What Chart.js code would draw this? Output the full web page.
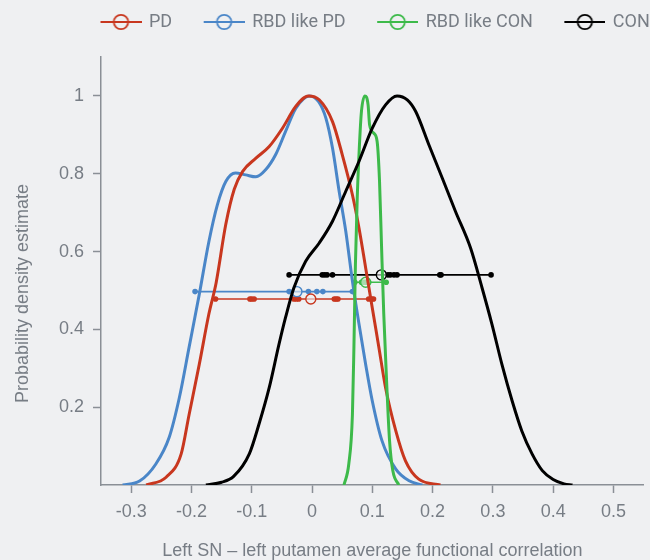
<!DOCTYPE html>
<html>
<head>
<meta charset="utf-8">
<script src="https://cdn.jsdelivr.net/npm/chart.js@4.4.1/dist/chart.umd.min.js"></script>
<style>
  html, body { margin: 0; padding: 0; background: #eff0f2; }
  #wrap { width: 650px; height: 560px; }
</style>
</head>
<body>
<div id="wrap"><canvas id="c" width="650" height="560" style="width:650px;height:560px"></canvas></div>
<script>
// ---------- data ----------
const seriesNames = ['PD', 'RBD like PD', 'RBD like CON', 'CON'];
const xTicks = [-0.3, -0.2, -0.1, 0, 0.1, 0.2, 0.3, 0.4, 0.5];
const yTicks = [0.2, 0.4, 0.6, 0.8, 1];

// kernel density curves (x = correlation, y = normalised density)
const pdX = [-0.275,-0.242,-0.217,-0.204,-0.187,-0.171,-0.159,-0.143,-0.129,-0.115,-0.093,-0.071,-0.049,-0.027,-0.006,0.012,0.034,0.050,0.067,0.078,0.089,0.100,0.111,0.122,0.139,0.155,0.177,0.213];
const pdY = [0,0.02,0.08,0.18,0.31,0.44,0.52,0.67,0.76,0.806,0.84,0.87,0.917,0.973,1.0,0.99,0.934,0.85,0.746,0.66,0.558,0.455,0.353,0.25,0.139,0.062,0.015,0];

const rbdPdX = [-0.314,-0.286,-0.259,-0.237,-0.220,-0.204,-0.187,-0.171,-0.157,-0.143,-0.127,-0.110,-0.093,-0.077,-0.060,-0.044,-0.027,-0.004,0.011,0.023,0.034,0.045,0.056,0.067,0.078,0.089,0.100,0.116,0.139,0.161,0.183];
const rbdPdY = [0,0.01,0.054,0.122,0.225,0.353,0.49,0.626,0.72,0.78,0.802,0.797,0.792,0.81,0.85,0.908,0.968,1.0,0.985,0.943,0.866,0.755,0.652,0.524,0.413,0.31,0.216,0.114,0.041,0.011,0];

const rbdConX = [0.053,0.061,0.067,0.0695,0.072,0.075,0.0785,0.082,0.0877,0.093,0.0955,0.1026,0.108,0.112,0.1154,0.119,0.1237,0.1286,0.134,0.144];
const rbdConY = [0,0.054,0.18,0.353,0.567,0.737,0.868,0.96,1.0,0.977,0.926,0.904,0.883,0.78,0.61,0.44,0.267,0.114,0.037,0];

const conX = [-0.176,-0.150,-0.130,-0.104,-0.088,-0.071,-0.055,-0.044,-0.030,-0.0105,0.012,0.034,0.056,0.078,0.100,0.122,0.141,0.158,0.172,0.194,0.216,0.238,0.263,0.282,0.2985,0.315,0.332,0.348,0.365,0.382,0.400,0.418,0.432];
const conY = [0,0.007,0.022,0.08,0.156,0.25,0.36,0.43,0.507,0.575,0.622,0.678,0.755,0.832,0.917,0.977,1.0,0.99,0.96,0.874,0.789,0.703,0.609,0.507,0.413,0.31,0.216,0.139,0.08,0.037,0.014,0.003,0];

// individual subject values (dots) and group means (open circles)
const pdDots = [-0.160,-0.103,-0.100,-0.096,-0.030,-0.026,-0.022,0.037,0.040,0.043,0.094,0.099,0.102];
const rbdPdDots = [-0.194,-0.038,-0.006,0.008,0.018,0.067];
const rbdConDots = [0.071,0.082,0.085,0.088,0.091,0.094,0.123];
const conDots = [-0.038,0.017,0.021,0.025,0.034,0.126,0.130,0.136,0.141,0.212,0.214,0.297];
const groupMeans = [-0.002, -0.025, 0.089, 0.115];
const stripRows = [0.478, 0.497, 0.521, 0.540];   // y-level of each dot strip

// ---------- styles ----------
const colors = ['#c8371f', '#4a86c8', '#3dba4a', '#000000'];
const textGray = '#777d85';
const axisGray = '#8a8f96';
const regular = "'Liberation Sans', Arial, sans-serif";
const legendFont = "Roboto, 'Liberation Sans', sans-serif";

const curveX = [pdX, rbdPdX, rbdConX, conX];
const curveY = [pdY, rbdPdY, rbdConY, conY];
const dots = [pdDots, rbdPdDots, rbdConDots, conDots];

const datasets = [];
const drawRank = [2, 3, 1, 0]; // lower = drawn on top
seriesNames.forEach((name, i) => {
  datasets.push({
    label: name,
    data: curveX[i].map((x, k) => ({x, y: curveY[i][k]})),
    showLine: true,
    borderColor: colors[i],
    borderWidth: 3,
    pointRadius: 0,
    pointHoverRadius: 0,
    cubicInterpolationMode: 'monotone',
    fill: false,
    order: drawRank[i]
  });
});
seriesNames.forEach((name, i) => {
  const sorted = dots[i].slice().sort((a, b) => a - b);
  datasets.push({
    label: name + ' subjects',
    data: sorted.map(x => ({x, y: stripRows[i]})),
    showLine: true,
    borderColor: colors[i],
    backgroundColor: colors[i],
    borderWidth: 1.6,
    pointRadius: 2.8,
    pointBorderWidth: 0,
    tension: 0,
    order: 10 + i
  });
  datasets.push({
    label: name + ' mean',
    data: [{x: groupMeans[i], y: stripRows[i]}],
    showLine: false,
    borderColor: colors[i],
    backgroundColor: 'rgba(239,240,242,0.6)',
    borderWidth: 1.4,
    pointRadius: 5,
    order: 5 + i
  });
});

function legendIcon(color) {
  const cv = document.createElement('canvas');
  cv.width = 63; cv.height = 18;
  const g = cv.getContext('2d');
  g.strokeStyle = color; g.lineWidth = 1.8;
  g.beginPath(); g.moveTo(22, 9); g.lineTo(63, 9); g.stroke();
  g.beginPath(); g.arc(42.5, 9, 7.2, 0, Math.PI * 2); g.stroke();
  return cv;
}
const icons = colors.map(legendIcon);

const layoutFix = {
  id: 'layoutFix',
  afterInit(chart) {
    const lg = chart.legend;
    const f = lg.fit.bind(lg);
    lg.fit = function () { f(); this.height = 57; };
  },
  afterLayout(chart) {
    const lg = chart.legend;
    const w = lg.width;
    lg.left = 69; lg.right = 69 + w;
    lg.top = 2;
  }
};

const fmt = v => String(Math.round(v * 10) / 10);

new Chart(document.getElementById('c'), {
  type: 'scatter',
  data: { datasets },
  plugins: [layoutFix],
  options: {
    responsive: false,
    animation: false,
    events: [],
    layout: { padding: { left: 0, right: 5, top: 0, bottom: 0 } },
    plugins: {
      tooltip: { enabled: false },
      legend: {
        display: true,
        position: 'top',
        align: 'start',
        labels: {
          usePointStyle: true,
          pointStyleWidth: 60,
          padding: 11,
          color: textGray,
          font: { family: legendFont, size: 18 },
          generateLabels: () => seriesNames.map((n, i) => ({
            text: n,
            pointStyle: icons[i],
            fillStyle: colors[i],
            strokeStyle: colors[i],
            lineWidth: 0,
            hidden: false,
            datasetIndex: i,
            fontColor: textGray
          }))
        }
      }
    },
    scales: {
      x: {
        type: 'linear',
        bounds: 'data',
        min: -0.35,
        max: 0.55,
        afterBuildTicks: s => { s.ticks = xTicks.map(v => ({value: v})); },
        afterFit: s => { s.height = 75; },
        border: { display: true, color: axisGray, width: 1.5 },
        grid: { drawOnChartArea: false, drawTicks: true, tickLength: 8, tickColor: axisGray, tickWidth: 1.5 },
        ticks: {
          padding: 8,
          color: textGray,
          font: { family: regular, size: 18 },
          maxRotation: 0,
          autoSkip: false,
          callback: v => fmt(v)
        },
        title: {
          display: true,
          text: 'Left SN – left putamen average functional correlation',
          color: textGray,
          font: { family: regular, size: 18 },
          padding: { top: 0, bottom: -2 }
        }
      },
      y: {
        type: 'linear',
        bounds: 'data',
        min: 0,
        max: 1.1,
        afterBuildTicks: s => { s.ticks = yTicks.map(v => ({value: v})); },
        afterFit: s => { s.width = 101; },
        border: { display: true, color: axisGray, width: 1.5 },
        grid: { drawOnChartArea: false, drawTicks: true, tickLength: 8, tickColor: axisGray, tickWidth: 1.5 },
        ticks: {
          padding: 9,
          color: textGray,
          font: { family: regular, size: 18 },
          autoSkip: false,
          callback: v => fmt(v)
        },
        title: {
          display: true,
          text: 'Probability density estimate\u2002\u2002\u2002\u2002\u2002',
          color: textGray,
          font: { family: regular, size: 18 },
          padding: { top: 12, bottom: 0 }
        }
      }
    }
  }
});
</script>
</body>
</html>
